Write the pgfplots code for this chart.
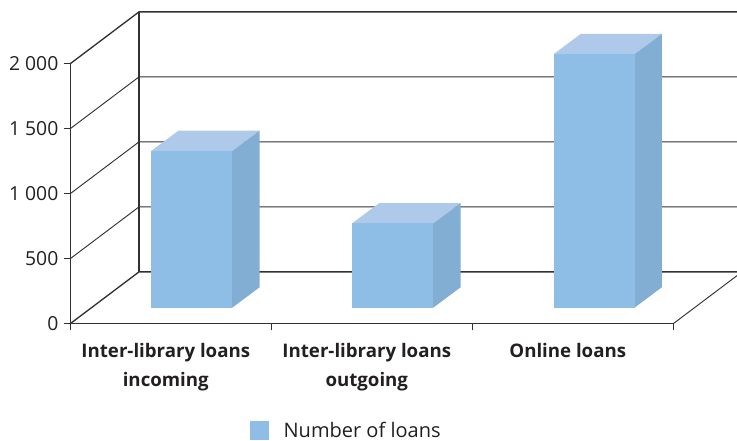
\documentclass[border=0pt]{standalone}
\usepackage{pgfplots}
\pgfplotsset{compat=1.18}
\usepackage{fontspec}
\setmainfont{Open Sans}
\definecolor{txt}{HTML}{231F20}
\definecolor{lin}{HTML}{333031}
\definecolor{barfront}{HTML}{8EBEE6}
\definecolor{bartop}{HTML}{AEC9E9}
\definecolor{barside}{HTML}{82AED4}
\begin{document}
\begin{tikzpicture}
\path[use as bounding box,clip] (0pt,0pt) rectangle (552.75pt,330.75pt);
\begin{axis}[
  at={(52.875pt,88.125pt)},anchor=south west,
  scale only axis,width=452.25pt,height=195pt,
  xmin=0,xmax=3,ymin=0,ymax=2000,
  clip=false,
  axis x line*=bottom,axis y line*=left,
  axis line style={lin,line width=0.85pt,-},
  xtick={0,1,2,3},xticklabels={},
  ytick={0,500,1000,1500,2000},
  tick style={lin,line width=0.7pt},
  major tick length=5.2pt,
  tick align=outside,
  extra x ticks={0.474,1.474,2.474},
  extra x tick labels={{Inter-library loans\\incoming},{Inter-library loans\\outgoing},{Online loans}},
  extra x tick style={major tick length=0pt,
    tick label style={font=\fontsize{14}{21.9}\selectfont\bfseries,text=txt,align=center,anchor=north,yshift=-11pt}},
  y tick label style={font=\fontsize{14.5}{17}\selectfont,text=txt,xshift=-0.4pt},
  /pgf/number format/assume math mode=true,
  /pgf/number format/1000 sep={\ },
  legend style={draw=none,fill=none,at={(axis cs:0.89,-825)},anchor=west,
    font=\fontsize{15}{18}\selectfont,text=txt,inner sep=0pt},
  legend image code/.code={\fill[barfront] (0pt,-7.2pt) rectangle (14.5pt,7.2pt);\path (23.5pt,0pt);},
]
% back wall and floor
\addplot[lin,line width=0.8pt,forget plot] coordinates {(0.3408,397)(0.3408,2397)};
\addplot[lin,line width=1pt,forget plot] coordinates {(0,2000)(0.3408,2397)(3.3408,2397)};
\addplot[lin,line width=0.7pt,forget plot] coordinates {(0,1500)(0.3408,1897)(3.3408,1897)};
\addplot[lin,line width=0.7pt,forget plot] coordinates {(0,1000)(0.3408,1397)(3.3408,1397)};
\addplot[lin,line width=0.7pt,forget plot] coordinates {(0,500)(0.3408,897)(3.3408,897)};
\addplot[lin,line width=1pt,forget plot] coordinates {(0,0)(0.3408,397)(3.3408,397)};
\addplot[lin,line width=0.7pt,forget plot] coordinates {(3,0)(3.3408,397)};
% bar 1
\addplot[fill=bartop,draw=none,forget plot] coordinates {(0.401,1326.5)(0.8045,1326.5)(0.9408,1483.5)(0.5373,1483.5)} --cycle;
\addplot[fill=barside,draw=none,forget plot] coordinates {(0.8045,121.5)(0.9408,278.5)(0.9408,1483.5)(0.8045,1326.5)} --cycle;
\addplot[fill=barfront,draw=none,forget plot] coordinates {(0.401,121.5)(0.8045,121.5)(0.8045,1326.5)(0.401,1326.5)} --cycle;
% bar 2
\addplot[fill=bartop,draw=none,forget plot] coordinates {(1.400,769.5)(1.8045,769.5)(1.9408,926.5)(1.5363,926.5)} --cycle;
\addplot[fill=barside,draw=none,forget plot] coordinates {(1.8045,121.5)(1.9408,278.5)(1.9408,926.5)(1.8045,769.5)} --cycle;
\addplot[fill=barfront,draw=none,forget plot] coordinates {(1.400,121.5)(1.8045,121.5)(1.8045,769.5)(1.400,769.5)} --cycle;
% bar 3
\addplot[fill=bartop,draw=none,forget plot] coordinates {(2.403,2071)(2.806,2071)(2.942,2228)(2.539,2228)} --cycle;
\addplot[fill=barside,draw=none,forget plot] coordinates {(2.806,121.5)(2.942,278.5)(2.942,2228)(2.806,2071)} --cycle;
\addplot[fill=barfront,draw=none] coordinates {(2.403,121.5)(2.806,121.5)(2.806,2071)(2.403,2071)} --cycle;
\addlegendentry{Number of loans}
\end{axis}
\end{tikzpicture}
\end{document}
